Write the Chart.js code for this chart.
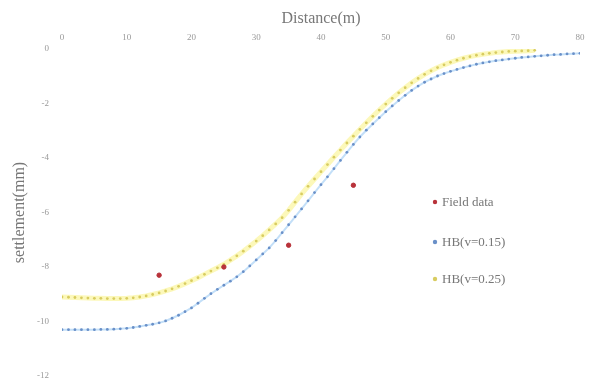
<!DOCTYPE html>
<html>
<head>
<meta charset="utf-8">
<script src="https://cdn.jsdelivr.net/npm/chart.js@4"></script>
<style>
  html, body { margin: 0; padding: 0; background: #fff; }
  #wrap { width: 590px; height: 390px; position: relative; }
</style>
</head>
<body>
<div id="wrap"><canvas id="settlementChart" width="590" height="390"></canvas></div>
<script>
// field measurements
const fieldX = [15, 25, 35, 45];
const fieldY = [-8.3, -8.0, -7.2, -5.0];

// HB(v=0.15), one point per metre from 0 to 80
const hb15X = [0,1,2,3,4,5,6,7,8,9,10,11,12,13,14,15,16,17,18,19,20,21,22,23,24,25,26,27,28,29,30,31,32,33,34,35,36,37,38,39,40,41,42,43,44,45,46,47,48,49,50,51,52,53,54,55,56,57,58,59,60,61,62,63,64,65,66,67,68,69,70,71,72,73,74,75,76,77,78,79,80];
const hb15Y = [-10.30,-10.30,-10.30,-10.30,-10.30,-10.30,-10.29,-10.29,-10.28,-10.27,-10.25,-10.22,-10.18,-10.14,-10.10,-10.05,
  -9.98,-9.88,-9.77,-9.64,-9.50,-9.33,-9.15,-8.98,-8.82,-8.67,-8.52,-8.36,-8.17,-7.96,-7.74,-7.52,-7.30,-7.03,-6.74,-6.45,
  -6.16,-5.87,-5.57,-5.27,-4.98,-4.69,-4.39,-4.09,-3.79,-3.50,-3.23,-2.98,-2.75,-2.52,-2.30,-2.09,-1.89,-1.70,-1.52,-1.36,
  -1.22,-1.10,-0.99,-0.90,-0.82,-0.75,-0.68,-0.62,-0.56,-0.51,-0.47,-0.43,-0.40,-0.37,-0.34,-0.31,-0.29,-0.27,-0.25,-0.23,
  -0.21,-0.20,-0.18,-0.17,-0.16];

// HB(v=0.25), 0 to 73 m
const hb25X = [0,1,2,3,4,5,6,7,8,9,10,11,12,13,14,15,16,17,18,19,20,21,22,23,24,25,26,27,28,29,30,31,32,33,34,35,36,37,38,39,40,41,42,43,44,45,46,47,48,49,50,51,52,53,54,55,56,57,58,59,60,61,62,63,64,65,66,67,68,69,70,71,72,73];
const hb25Y = [-9.10,-9.11,-9.12,-9.13,-9.14,-9.15,-9.15,-9.16,-9.16,-9.16,-9.15,-9.13,-9.10,-9.06,-9.01,-8.95,
  -8.88,-8.80,-8.71,-8.61,-8.50,-8.39,-8.27,-8.15,-8.03,-7.90,-7.75,-7.59,-7.42,-7.24,-7.05,-6.85,-6.64,-6.42,-6.19,-5.92,
  -5.62,-5.32,-5.04,-4.77,-4.50,-4.24,-3.97,-3.71,-3.45,-3.20,-2.95,-2.71,-2.47,-2.24,-2.02,-1.81,-1.61,-1.42,-1.24,-1.08,
  -0.93,-0.80,-0.68,-0.58,-0.49,-0.41,-0.34,-0.28,-0.23,-0.19,-0.16,-0.13,-0.11,-0.09,-0.08,-0.07,-0.06,-0.05];

const seriesNames = ["Field data", "HB(v=0.15)", "HB(v=0.25)"];

function toPoints(xs, ys) {
    let pts = [];
    for (let i = 0; i < xs.length; i++) {
        pts.push({x: xs[i], y: ys[i]});
    }
    return pts;
}

const serif = "'Liberation Serif', 'DejaVu Serif', serif";

// legend drawn inside the plot area, like the original
const insideLegend = {
    id: "insideLegend",
    afterDraw(chart) {
        const ctx = chart.ctx;
        const rows = [202, 242, 279];
        ctx.save();
        ctx.font = "13px " + serif;
        ctx.textBaseline = "middle";
        chart.data.datasets.forEach(function (ds, i) {
            ctx.beginPath();
            ctx.arc(435, rows[i], 2.2, 0, Math.PI * 2);
            ctx.fillStyle = ds.pointBackgroundColor;
            ctx.fill();
            ctx.fillStyle = "#777";
            ctx.fillText(ds.label, 442, rows[i] + 1);
        });
        ctx.restore();
    }
};

new Chart("settlementChart", {
    type: "scatter",
    data: {
        datasets: [{
            label: seriesNames[0],
            data: toPoints(fieldX, fieldY),
            pointBackgroundColor: "#b8323a",
            pointBorderColor: "#b8323a",
            pointRadius: 2.2,
            showLine: false,
            order: 0
        }, {
            label: seriesNames[1],
            data: toPoints(hb15X, hb15Y),
            showLine: true,
            borderColor: "rgba(170,210,245,0.7)",
            borderWidth: 2,
            pointBackgroundColor: "#6a90c8",
            pointBorderColor: "#6a90c8",
            pointRadius: 1.4,
            pointBorderWidth: 0,
            order: 2
        }, {
            label: seriesNames[2],
            data: toPoints(hb25X, hb25Y),
            showLine: true,
            borderColor: "rgba(250,244,140,0.6)",
            borderWidth: 5,
            pointBackgroundColor: "#d8cc60",
            pointBorderColor: "#d8cc60",
            pointRadius: 1.4,
            pointBorderWidth: 0,
            order: 1
        }]
    },
    options: {
        responsive: false,
        animation: {duration: 0},
        layout: {padding: {left: 0, right: 10, top: 0, bottom: 14}},
        plugins: {
            legend: {display: false},
            tooltip: {enabled: false}
        },
        scales: {
            x: {
                type: "linear",
                position: "top",
                min: 0,
                max: 80,
                grid: {display: false, drawTicks: false},
                border: {display: false},
                ticks: {stepSize: 10, color: "#999", font: {family: serif, size: 9}, padding: 6},
                title: {display: true, text: "Distance(m)", color: "#777", font: {family: serif, size: 16}, padding: {top: 9, bottom: 2}},
                afterFit: function (scale) {
                    scale.height = 49;
                    scale.paddingLeft = 0;
                    scale.paddingRight = 0;
                }
            },
            y: {
                min: -12,
                max: 0,
                grid: {display: false, drawTicks: false},
                border: {display: false},
                ticks: {stepSize: 2, color: "#999", font: {family: serif, size: 9}, padding: 13},
                title: {display: true, text: "settlement(mm)", color: "#777", font: {family: serif, size: 16}, padding: {top: 10, bottom: 2}},
                afterFit: function (scale) {
                    scale.width = 62;
                    scale.paddingTop = 0;
                    scale.paddingBottom = 0;
                }
            }
        }
    },
    plugins: [insideLegend]
});
</script>
</body>
</html>
